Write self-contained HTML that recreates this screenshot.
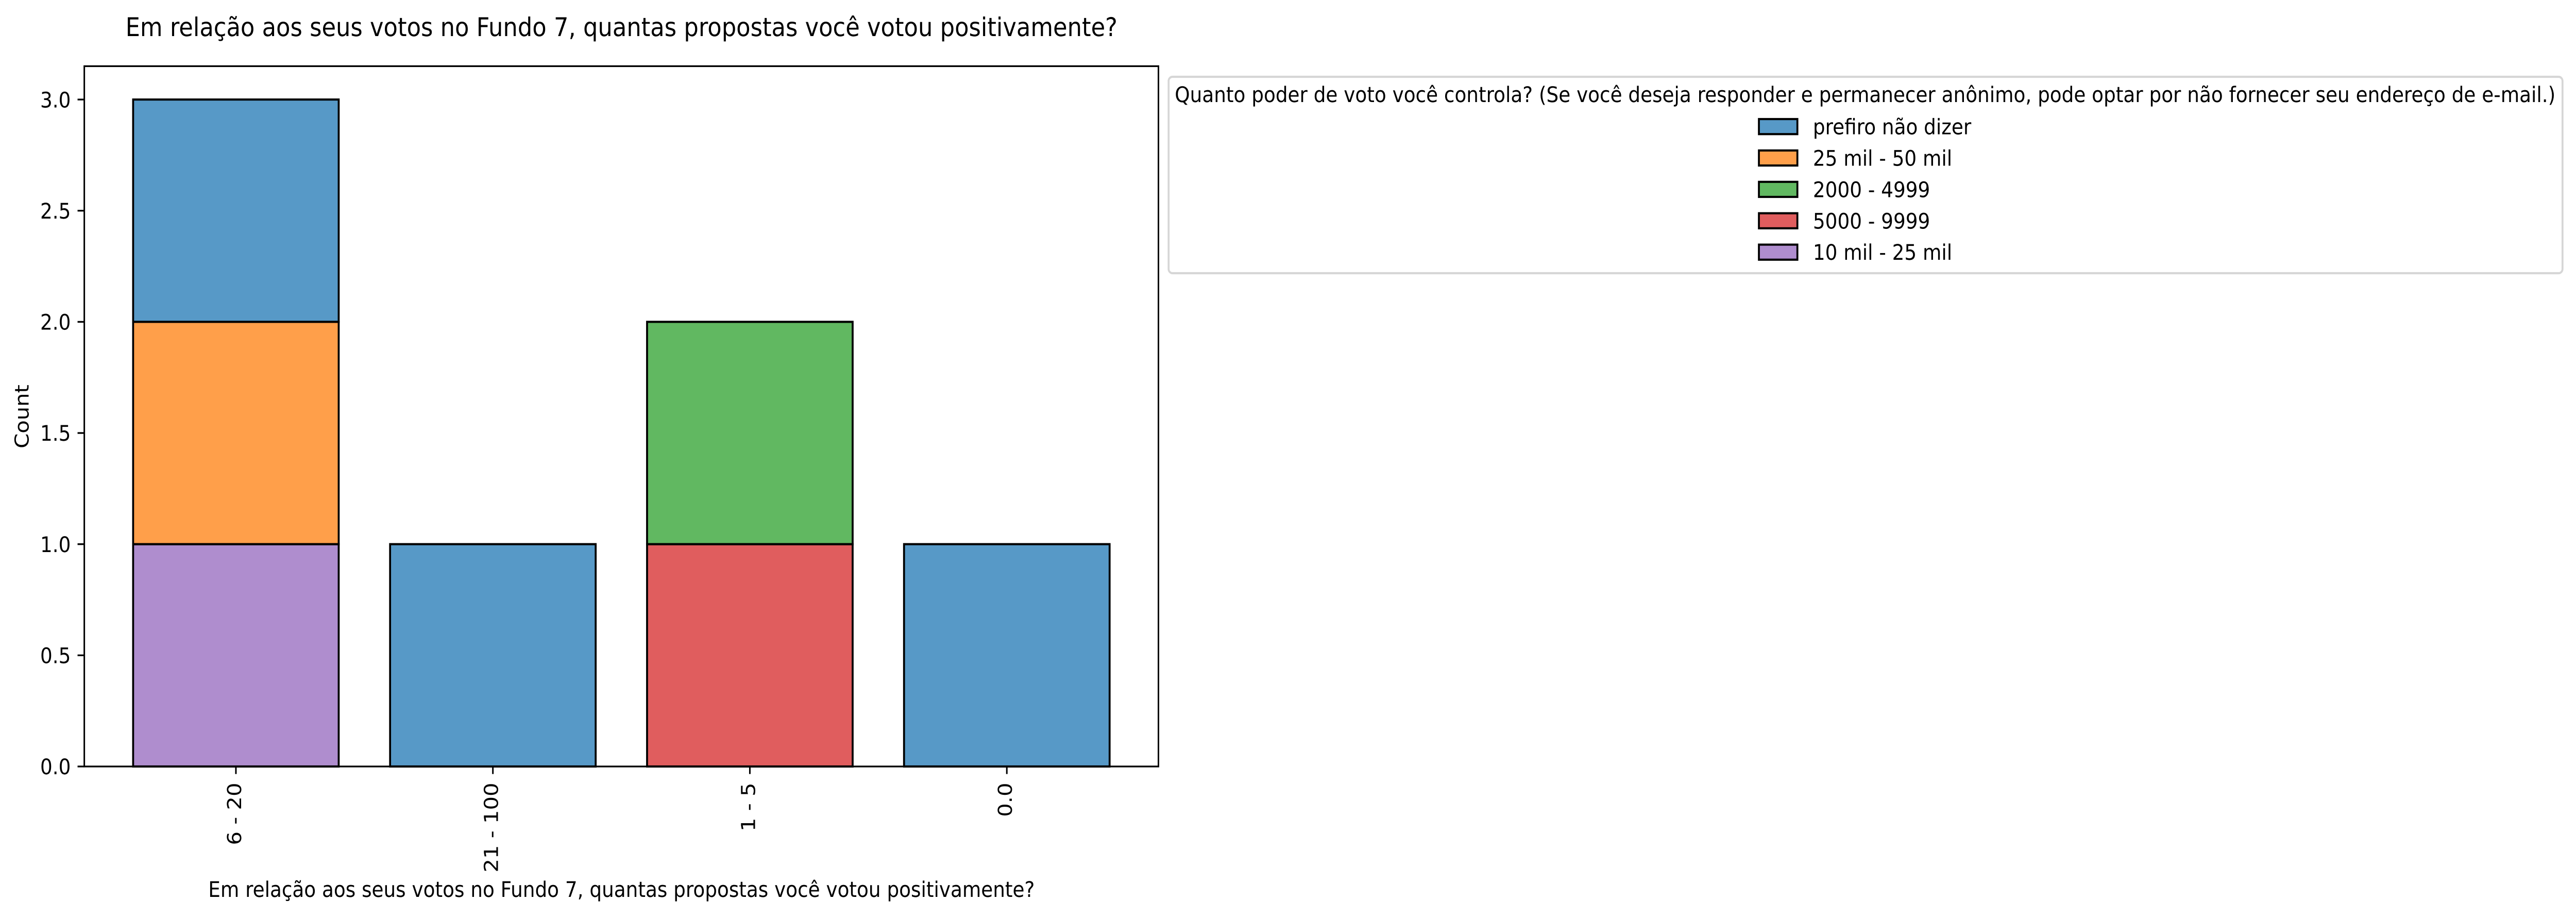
<!DOCTYPE html>
<html lang="pt">
<head>
<meta charset="utf-8">
<title>Em relação aos seus votos no Fundo 7</title>
<style>
  html, body { margin: 0; padding: 0; background: #fff; width: 100%; height: 100%; overflow: hidden; }
  svg { display: block; position: fixed; left: 0; top: 0; width: 100vw; height: 100vh; }
  text { font-family: "DejaVu Sans", "Liberation Sans", sans-serif; fill: #000; text-rendering: geometricPrecision; }
</style>
</head>
<body>
<svg id="chart" xmlns="http://www.w3.org/2000/svg" viewBox="0 0 5577 1779" preserveAspectRatio="none">
  <rect x="0" y="0" width="5577" height="1779" fill="#ffffff"/>
  <text x="1345.5" y="70" font-size="50" text-anchor="middle">Em relação aos seus votos no Fundo 7, quantas propostas você votou positivamente?</text>
  <text x="1345.5" y="1740" font-size="41.67" text-anchor="middle">Em relação aos seus votos no Fundo 7, quantas propostas você votou positivamente?</text>
  <text x="0" y="0" font-size="41.67" text-anchor="middle" transform="translate(62 808) rotate(-90)">Count</text>
  <g id="bars"></g>
  <g id="y-axis"></g>
  <g id="x-axis"></g>
  <rect x="182.5" y="128.4" width="2325.5" height="1358.6" fill="none" stroke="#000" stroke-width="3.33"/>
  <g id="legend">
    <rect x="2530" y="149" width="3017.8" height="381" rx="8.3" ry="8.3" fill="#fff" stroke="#d6d6d6" stroke-width="4.17"/>
    <text x="4038" y="198" font-size="41.67" text-anchor="middle">Quanto poder de voto você controla? (Se você deseja responder e permanecer anônimo, pode optar por não fornecer seu endereço de e-mail.)</text>
  </g>
</svg>
<script>
// Chart data
const categories = ["6 - 20", "21 - 100", "1 - 5", "0.0"];
const seriesNames = ["prefiro não dizer", "25 mil - 50 mil", "2000 - 4999", "5000 - 9999", "10 mil - 25 mil"];
const seriesColors = ["#1f77b4", "#ff7f0e", "#2ca02c", "#d62728", "#9467bd"];
const prefiroNaoDizer = [1, 1, 0, 1];
const mil25a50 = [1, 0, 0, 0];
const de2000a4999 = [0, 0, 1, 0];
const de5000a9999 = [0, 0, 1, 0];
const mil10a25 = [1, 0, 0, 0];
const seriesValues = [prefiroNaoDizer, mil25a50, de2000a4999, de5000a9999, mil10a25];
const yTicks = [0, 0.5, 1, 1.5, 2, 2.5, 3];
const yTickLabels = ["0.0", "0.5", "1.0", "1.5", "2.0", "2.5", "3.0"];

// Axis functions
const plot = { left: 182.5, right: 2508, top: 128.4, bottom: 1487 };
const barWidth = 0.8;
function yUpperLimit() {
  const totals = categories.map((c, i) => seriesValues.reduce((s, v) => s + v[i], 0));
  return Math.max(...totals) * 1.05;
}
const yMax = yUpperLimit();
const xMin = -barWidth / 2 - 0.19;
const xMax = categories.length - 1 + barWidth / 2 + 0.19;
function xScale(v) { return plot.left + (v - xMin) / (xMax - xMin) * (plot.right - plot.left); }
function yScale(v) { return plot.bottom - v / yMax * (plot.bottom - plot.top); }

const NS = "http://www.w3.org/2000/svg";
function make(tag, attrs, parent) {
  const n = document.createElementNS(NS, tag);
  for (const k in attrs) n.setAttribute(k, attrs[k]);
  parent.appendChild(n);
  return n;
}
const barsG = document.getElementById("bars");
const yG = document.getElementById("y-axis");
const xG = document.getElementById("x-axis");
const legendG = document.getElementById("legend");

// Stacked bars: last legend entry sits at the bottom of the stack
categories.forEach((cat, i) => {
  let base = 0;
  for (let s = seriesValues.length - 1; s >= 0; s--) {
    const val = seriesValues[s][i];
    if (!val) continue;
    const rect = make("rect", {
      x: xScale(i - barWidth / 2),
      y: yScale(base + val),
      width: xScale(i + barWidth / 2) - xScale(i - barWidth / 2),
      height: yScale(base) - yScale(base + val),
      fill: seriesColors[s],
      "fill-opacity": 0.75,
      stroke: "#000",
      "stroke-width": 4.17
    }, barsG);
    
    
    base += val;
  }
});

// Y axis ticks
yTicks.forEach((t, i) => {
  const line = make("line", { x1: plot.left - 14.6, x2: plot.left, y1: yScale(t), y2: yScale(t), stroke: "#000", "stroke-width": 3.33 }, yG);
  
  
  const label = make("text", { x: plot.left - 29.2, y: yScale(t) + 15.2, "font-size": 41.67, "text-anchor": "end" }, yG);
  
  
  label.textContent = yTickLabels[i];
});

// X axis ticks
categories.forEach((cat, i) => {
  const line = make("line", { x1: xScale(i), x2: xScale(i), y1: plot.bottom, y2: plot.bottom + 14.6, stroke: "#000", "stroke-width": 3.33 }, xG);
  
  
  const label = make("text", { x: 0, y: 0, "font-size": 41.67, "text-anchor": "end", transform: "translate(" + (xScale(i) + 11) + " 1518.5) rotate(-90)" }, xG);
  
  
  label.textContent = cat;
});

// Legend entries
seriesNames.forEach((name, i) => {
  const rowY = 245.6 + i * 60.9;
  const swatch = make("rect", { x: 3808, y: rowY - 14.6, width: 83.3, height: 29.2, fill: seriesColors[i], "fill-opacity": 0.75, stroke: "#000", "stroke-width": 4.17 }, legendG);
  
  
  const label = make("text", { x: 3925, y: rowY + 15, "font-size": 41.67 }, legendG);
  
  
  label.textContent = name;
});
</script>
</body>
</html>
